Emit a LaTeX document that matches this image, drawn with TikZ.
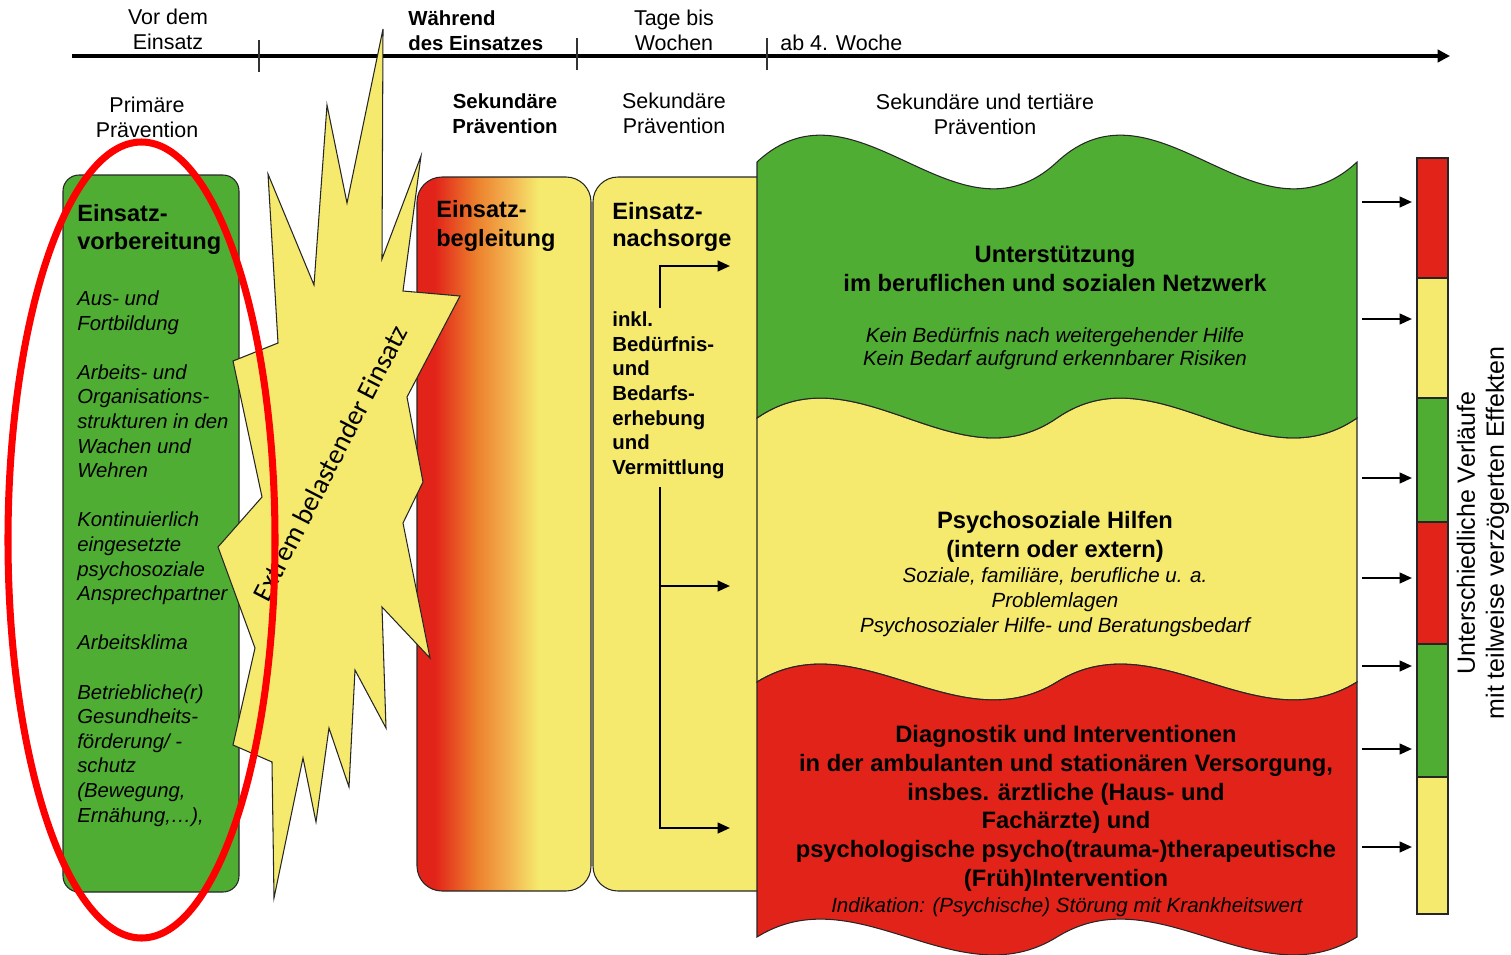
\documentclass[tikz,border=0pt]{standalone}
\usepackage{fontspec}
\setmainfont{Liberation Sans}
\newfontfamily\burstfont{Carlito}
\usepackage{xcolor}
\usetikzlibrary{arrows.meta}

\definecolor{zgreen}{RGB}{80,173,51}
\definecolor{zyellow}{RGB}{245,234,110}
\definecolor{zred}{RGB}{226,35,26}
\definecolor{zorange}{RGB}{236,128,44}
\definecolor{zlightorange}{RGB}{243,182,82}

\pgfdeclarehorizontalshading{begleitshade}{100bp}{color(0bp)=(zred); color(30bp)=(zred); color(42bp)=(zorange); color(52bp)=(zlightorange); color(60bp)=(zyellow); color(100bp)=(zyellow)}

% wave edges of the right block: (base y, control offset)
\newcommand{\wavelr}[2]{(757,#1) .. controls (857,#1-#2) and (957,#1+#2) .. (1057,#1) .. controls (1157,#1-#2) and (1257,#1+#2) .. (1357,#1)}
\newcommand{\waverl}[2]{(1357,#1) .. controls (1257,#1+#2) and (1157,#1-#2) .. (1057,#1) .. controls (957,#1+#2) and (857,#1-#2) .. (757,#1)}

\begin{document}
\begin{tikzpicture}[x=0.02cm, y=-0.02cm,
  outl/.style={draw=black!85, line width=0.6pt},
  arr/.style={line width=1.3pt, -{Triangle[length=7pt,width=6pt]}},
  toplbl/.style={inner sep=0pt, anchor=north, align=center, font=\fontsize{12.2}{14.2}\selectfont},
  toplblb/.style={toplbl, font=\bfseries\fontsize{11.6}{14.2}\selectfont},
  panelhead/.style={inner sep=0pt, anchor=north west, align=left, font=\bfseries\fontsize{13.4}{16.2}\selectfont},
  itembox/.style={inner sep=0pt, anchor=north west, align=left, font=\itshape\fontsize{11.55}{14}\selectfont},
  wavehead/.style={inner sep=0pt, anchor=north, align=center, font=\bfseries\fontsize{13.5}{16.2}\selectfont},
  waveitem/.style={inner sep=0pt, anchor=north, align=center, font=\itshape\fontsize{11.7}{13.6}\selectfont}]
\useasboundingbox (0,0) rectangle (1511,954);

% time axis
\coordinate (t0) at (72,56);
\coordinate (t1) at (1450,56);
\draw[line width=2.3pt, -{Triangle[length=7pt,width=7pt]}] (t0) -- (t1);
\foreach \x/\ya/\yb in {259/40/72, 577/38/70, 767/38/70}
  \draw[line width=0.8pt, black!80] (\x,\ya) -- (\x,\yb);

\node[toplbl] (vor) at (168,9) {Vor dem\\Einsatz};
\node[toplblb, anchor=north west, align=left] (waehrend) at (408,10.5) {Während\\des Einsatzes};
\node[toplbl] (tage) at (674,10) {Tage bis\\Wochen};
\node[toplbl, anchor=north west] (ab4) at (780,35) {ab 4. Woche};

\node[toplbl] (prim) at (147,97) {Primäre\\Prävention};
\node[toplblb] (sek1) at (505,93.5) {Sekundäre\\Prävention};
\node[toplbl] (sek2) at (674,93) {Sekundäre\\Prävention};
\node[toplbl] (sek3) at (985,94) {Sekundäre und tertiäre\\Prävention};

% primary prevention
\filldraw[fill=zgreen, outl, rounded corners=0.32cm] (63,175) rectangle (239,892);
\node[panelhead] (vorb) at (77,204) {Einsatz-\\vorbereitung};
\node[itembox] (vorbitems) at (77,290.5) {Aus- und\\Fortbildung\\[14pt]Arbeits- und\\Organisations-\\strukturen in den\\Wachen und\\Wehren\\[14pt]Kontinuierlich\\eingesetzte\\psychosoziale\\Ansprechpartner\\[14pt]Arbeitsklima\\[14pt]Betriebliche(r)\\Gesundheits-\\förderung/ -\\schutz\\(Bewegung,\\Ernähung,…),};

% secondary prevention panels
\shadedraw[shading=begleitshade, outl, rounded corners=0.5cm] (417,177) rectangle (591,891);
\node[panelhead, font=\bfseries\fontsize{13.4}{16.5}\selectfont] (begl) at (436,200) {Einsatz-\\begleitung};

\filldraw[fill=zyellow, outl, rounded corners=0.5cm] (593,177) rectangle (800,891);
\node[panelhead, font=\bfseries\fontsize{13.4}{15.6}\selectfont] (nachs) at (612,202) {Einsatz-\\nachsorge};
\node[itembox, font=\bfseries\fontsize{11.6}{14}\selectfont] (inkl) at (612,311.5) {inkl.\\Bedürfnis-\\und\\Bedarfs-\\erhebung\\und\\Vermittlung};
\coordinate (n0) at (660,308);
\coordinate (n0e) at (730,266);
\coordinate (n1) at (660,487);
\coordinate (n1m) at (660,586);
\coordinate (n1me) at (730,586);
\coordinate (n1e) at (730,828);
\draw[arr] (n0) |- (n0e);
\draw[arr] (n1) |- (n1e);
\draw[arr] (n1m) -- (n1me);

% the burst
\filldraw[fill=zyellow, outl] (383,29) -- (382,259) -- (421,156) -- (403,291) -- (460,296)
  -- (407,397) -- (423,482) -- (403,523) -- (430,658) -- (382,607) -- (386,728)
  -- (355,670) -- (349,787) -- (329,728) -- (316,822) -- (303,758) -- (274,898)
  -- (272,762) -- (233,745) -- (255,648) -- (218,547) -- (262,497) -- (233,361)
  -- (278,343) -- (268,174) -- (314,285) -- (327,105) -- (347,203) -- cycle;
\node[inner sep=0pt, rotate=62.7, font=\burstfont\fontsize{15.8}{18}\selectfont] (burst) at (330,463) {Extrem belastender Einsatz};

% secondary and tertiary prevention
\filldraw[fill=zyellow, outl] \wavelr{418}{69} -- \waverl{682}{62} -- cycle;
\filldraw[fill=zgreen, outl] \wavelr{162}{93} -- \waverl{418}{69} -- cycle;
\filldraw[fill=zred, outl] \wavelr{682}{62} -- \waverl{937}{62} -- cycle;

\node[wavehead] (unterst) at (1055,246) {Unterstützung\\im beruflichen und sozialen Netzwerk};
\node[waveitem, font=\itshape\fontsize{11.7}{13.1}\selectfont] (kein) at (1055,327.5) {Kein Bedürfnis nach weitergehender Hilfe\\Kein Bedarf aufgrund erkennbarer Risiken};
\node[wavehead, font=\bfseries\fontsize{13.5}{16.5}\selectfont] (psych) at (1055,511) {Psychosoziale Hilfen\\(intern oder extern)};
\node[waveitem, font=\itshape\fontsize{11.7}{14.2}\selectfont] (soz) at (1055,567.5) {Soziale, familiäre, berufliche u. a.\\Problemlagen\\Psychosozialer Hilfe- und Beratungsbedarf};
\node[wavehead, font=\bfseries\fontsize{13.5}{16.4}\selectfont] (diag) at (1066,725) {Diagnostik und Interventionen\\in der ambulanten und stationären Versorgung,\\insbes. ärztliche (Haus- und\\Fachärzte) und\\psychologische psycho(trauma-)therapeutische\\(Früh)Intervention};
\node[waveitem] (indik) at (1067,897.5) {Indikation: (Psychische) Störung mit Krankheitswert};

% outcomes
\foreach \y [count=\i] in {202,319,478,578,666,749,847} {
  \coordinate (ra\i) at (1362,\y);
  \coordinate (rb\i) at (1412,\y);
  \draw[arr] (ra\i) -- (rb\i);
}
\foreach \ya/\yb/\c in {158/278/zred, 278/398/zyellow, 398/522/zgreen, 522/644/zred, 644/777/zgreen, 777/914/zyellow}
  \filldraw[fill=\c, outl] (1417,\ya) rectangle (1448,\yb);
\node[inner sep=0pt, rotate=90, align=center, font=\fontsize{14.2}{16.5}\selectfont] (verl) at (1483,533) {Unterschiedliche Verläufe\\mit teilweise verzögerten Effekten};

% highlight
\draw[red, line width=4pt] (141.5,540) ellipse [x radius=133.5, y radius=398];
\end{tikzpicture}
\end{document}
